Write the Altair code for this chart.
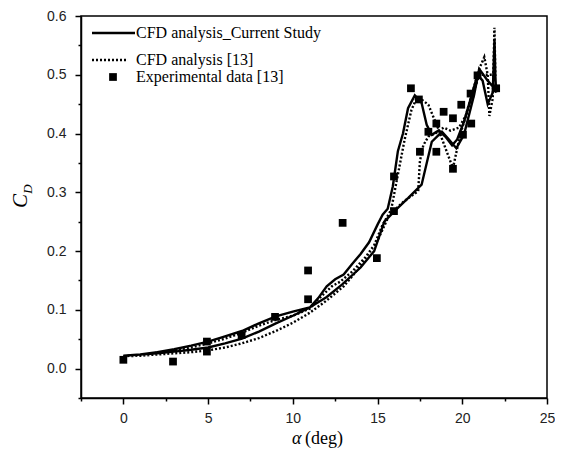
import altair as alt
import pandas as pd

# Experimental data [13]
exp_alpha = [0, 2.93, 4.93, 4.93, 6.98, 8.95, 10.9, 10.9, 12.94, 14.96, 15.97, 15.97,
             16.97, 17.44, 17.5, 18.0, 18.47, 18.47, 18.9, 19.45, 19.45, 19.94, 20.04,
             20.49, 20.53, 20.9, 22.0]
exp_cd = [0.015, 0.012, 0.046, 0.029, 0.057, 0.088, 0.118, 0.167, 0.248, 0.188, 0.268, 0.327,
          0.477, 0.458, 0.369, 0.403, 0.417, 0.369, 0.437, 0.426, 0.340, 0.449, 0.398,
          0.468, 0.417, 0.499, 0.477]

# CFD analysis_Current Study (hysteresis loop, ordered path)
cur_alpha = [0, 1, 2, 3, 4, 5, 6, 7, 8, 9, 10, 11, 11.5, 12, 12.5, 13, 13.5, 14, 14.5, 15,
             15.3, 15.6, 15.9, 16.2, 16.5, 16.8, 17.2, 17.6, 17.9, 18.2, 18.6, 19.0, 19.4,
             19.7, 20.1, 20.5, 20.9, 21.2, 21.5, 21.8, 21.9, 21.95, 22.0, 21.8, 21.5, 21.0,
             20.7, 20.1, 19.65, 19.15, 18.8, 18.2, 17.6, 16.8, 16.0, 15.4, 14.8, 14.0, 12.9,
             12.0, 11.0, 10.0, 9.0, 8.0, 7.0, 6.0, 5.0, 4.0, 3.0, 2.0, 1.0, 0]
cur_cd = [0.022, 0.024, 0.026, 0.029, 0.032, 0.036, 0.043, 0.051, 0.063, 0.077, 0.090, 0.104,
          0.120, 0.140, 0.152, 0.160, 0.178, 0.195, 0.215, 0.245, 0.262, 0.272, 0.31, 0.37,
          0.40, 0.443, 0.465, 0.452, 0.415, 0.398, 0.405, 0.395, 0.380, 0.39, 0.42, 0.46,
          0.50, 0.49, 0.45, 0.47, 0.56, 0.50, 0.47, 0.48, 0.49, 0.51, 0.466, 0.398, 0.375,
          0.392, 0.403, 0.386, 0.313, 0.29, 0.268, 0.250, 0.2, 0.172, 0.143, 0.122, 0.104,
          0.097, 0.089, 0.077, 0.064, 0.055, 0.046, 0.039, 0.033, 0.028, 0.024, 0.022]

# CFD analysis [13]
ref_alpha = [0, 1, 2, 3, 4, 5, 6, 7, 8, 9, 10, 11, 12, 13, 13.5, 14, 14.5, 15, 15.4, 15.7,
             16.0, 16.5, 17.0, 17.4, 17.5, 17.7, 18.0, 18.4, 18.9, 19.3, 19.8, 20.2, 20.6,
             21.0, 21.3, 21.5, 21.6, 21.8, 21.9, 21.95, 21.7, 21.5, 21.0, 20.5, 20.0, 19.74,
             19.45, 19.15, 18.57, 18.0, 17.6, 17.3, 17.0, 16.6, 16.2, 15.8, 15.3, 14.8, 14.3,
             13.5, 12.8, 12.3, 11.5, 11.0, 10.0, 9.0, 8.0, 7.0, 6.0, 5.0, 4.0, 3.0, 2.0, 1.0, 0]
ref_cd = [0.021, 0.022, 0.024, 0.026, 0.028, 0.031, 0.036, 0.043, 0.052, 0.064, 0.078, 0.095,
          0.116, 0.140, 0.157, 0.175, 0.197, 0.218, 0.243, 0.262, 0.270, 0.283, 0.294, 0.302,
          0.353, 0.380, 0.395, 0.400, 0.410, 0.405, 0.410, 0.430, 0.470, 0.510, 0.530, 0.500,
          0.430, 0.460, 0.580, 0.500, 0.500, 0.500, 0.500, 0.455, 0.410, 0.380, 0.341, 0.364,
          0.409, 0.449, 0.458, 0.460, 0.440, 0.390, 0.330, 0.270, 0.245, 0.210, 0.190, 0.165,
          0.148, 0.140, 0.118, 0.102, 0.090, 0.083, 0.073, 0.061, 0.051, 0.043, 0.036, 0.031,
          0.027, 0.023, 0.021]

legend_labels = ["CFD analysis_Current Study", "CFD analysis [13]", "Experimental data [13]"]
x_major = [0, 5, 10, 15, 20, 25]
x_minor = [-2.5, 2.5, 7.5, 12.5, 17.5, 22.5]
y_major = [0.0, 0.1, 0.2, 0.3, 0.4, 0.5, 0.6]
y_minor = [-0.05, 0.05, 0.15, 0.25, 0.35, 0.45, 0.55]

exp_df = pd.DataFrame({"alpha": exp_alpha, "cd": exp_cd})
cur_df = pd.DataFrame({"alpha": cur_alpha, "cd": cur_cd, "i": range(len(cur_alpha))})
ref_df = pd.DataFrame({"alpha": ref_alpha, "cd": ref_cd, "i": range(len(ref_alpha))})

xs = alt.Scale(domain=[-2.5, 25], nice=False, zero=False)
ys = alt.Scale(domain=[-0.05, 0.6], nice=False, zero=False)

x_axis = alt.Axis(values=x_major, title=None, grid=False, format="d", orient="bottom",
                  tickSize=6, labelPadding=7, labelFlush=False)
y_axis = alt.Axis(values=y_major, title=None, grid=False, format=".1f", orient="left",
                  tickSize=6, labelPadding=9, labelFlush=False)
x_axis_minor = alt.Axis(values=x_minor, title=None, grid=False, labels=False,
                        orient="bottom", tickSize=3, domain=False)
y_axis_minor = alt.Axis(values=y_minor, title=None, grid=False, labels=False,
                        orient="left", tickSize=3, domain=False)

X = alt.X("alpha:Q", scale=xs, axis=x_axis)
Y = alt.Y("cd:Q", scale=ys, axis=y_axis)

cur_line = alt.Chart(cur_df).mark_line(color="black", strokeWidth=2.4, clip=True).encode(
    x=X, y=Y, order="i:Q")
ref_line = alt.Chart(ref_df).mark_line(color="black", strokeWidth=2.4, strokeDash=[2, 2],
                                       clip=True).encode(x=X, y=Y, order="i:Q")
pts = alt.Chart(exp_df).mark_square(color="black", size=60, opacity=1).encode(x=X, y=Y)

# invisible layer carrying the minor-tick axes
minor = alt.Chart(exp_df).mark_point(opacity=0).encode(
    x=alt.X("alpha:Q", scale=xs, axis=x_axis_minor),
    y=alt.Y("cd:Q", scale=ys, axis=y_axis_minor))

one = pd.DataFrame({"k": [0]})
leg_font = "Liberation Serif"
leg1 = alt.Chart(one).mark_rule(color="black", strokeWidth=2.4).encode(
    x=alt.value(11), x2=alt.value(54), y=alt.value(17))
leg2 = alt.Chart(one).mark_rule(color="black", strokeWidth=2.4, strokeDash=[2, 2]).encode(
    x=alt.value(11), x2=alt.value(47), y=alt.value(44))
leg3 = alt.Chart(one).mark_square(color="black", size=60, opacity=1).encode(
    x=alt.value(32), y=alt.value(61))
leg_texts = [
    alt.Chart(one).mark_text(align="left", baseline="middle", font=leg_font, fontSize=16,
                             color="black").encode(x=alt.value(55), y=alt.value(yy),
                                                   text=alt.value(t))
    for t, yy in zip(legend_labels, [17, 44, 61])
]

ttl_c = alt.Chart(one).mark_text(font=leg_font, fontSize=21, fontStyle="italic", angle=270,
                                 align="center", baseline="middle", color="black").encode(
    x=alt.value(-60), y=alt.value(185), text=alt.value("C"))
ttl_d = alt.Chart(one).mark_text(font=leg_font, fontSize=13, fontStyle="italic", angle=270,
                                 align="center", baseline="middle", color="black").encode(
    x=alt.value(-53), y=alt.value(173), text=alt.value("D"))
ttl_a = alt.Chart(one).mark_text(font=leg_font, fontSize=18, fontStyle="italic",
                                 align="left", baseline="alphabetic", color="black").encode(
    x=alt.value(211), y=alt.value(428), text=alt.value("α"))
ttl_deg = alt.Chart(one).mark_text(font=leg_font, fontSize=18,
                                   align="left", baseline="alphabetic", color="black").encode(
    x=alt.value(224), y=alt.value(428), text=alt.value("(deg)"))

main = alt.layer(cur_line, ref_line, pts, leg1, leg2, leg3, *leg_texts,
                 ttl_c, ttl_d, ttl_a, ttl_deg)

chart = alt.layer(main, minor).resolve_axis(x="independent", y="independent").properties(
    width=466, height=382,
    autosize=alt.AutoSizeParams(type="none"),
    padding={"left": 73, "top": 8, "right": 8, "bottom": 51},
).configure_view(stroke="black", strokeWidth=1.5).configure_axis(
    domainColor="black", domainWidth=1.5, tickColor="black", tickWidth=1.5,
    labelFont="Liberation Sans", labelFontSize=14, labelColor="#222"
)

chart.save("out.html", embed_options={"renderer": "svg", "actions": False})
